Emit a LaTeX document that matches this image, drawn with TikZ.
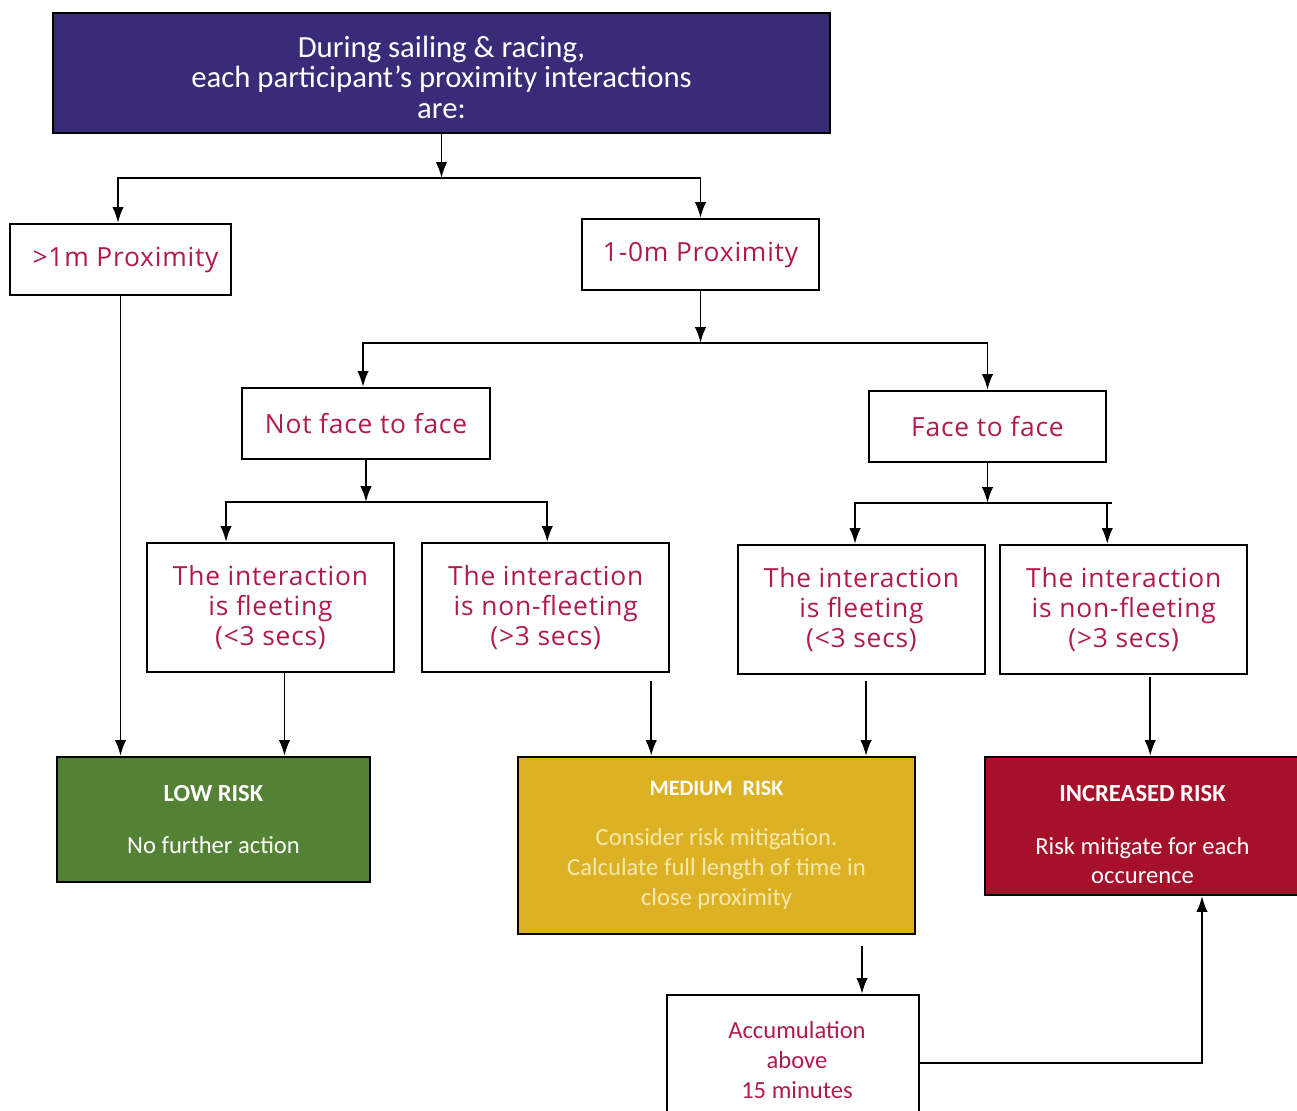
\documentclass[tikz,border=0pt]{standalone}
\usepackage{fontspec}
\setmainfont{Carlito}
\newfontfamily\askfont[LetterSpace=3]{Open Sans}
\usepackage{xcolor}
\usetikzlibrary{calc}
\usetikzlibrary{positioning}
\usetikzlibrary{arrows.meta}

\definecolor{titleblue}{HTML}{3A2B78}
\definecolor{asktext}{HTML}{B01A50}
\definecolor{lowgreen}{HTML}{548235}
\definecolor{medyellow}{HTML}{DCB124}
\definecolor{medtext}{HTML}{F7E9AE}
\definecolor{highred}{HTML}{A6102A}

\begin{document}
\begin{tikzpicture}[x=0.02cm,y=-0.02cm]
		\tikzstyle{box} = [draw, line width=1.3pt, align=center, inner sep=0pt]
		\tikzstyle{question} = [box, text=asktext, font=\askfont\fontsize{15}{17}\selectfont]
		\tikzstyle{outcome} = [box, text=white, font=\fontsize{14}{17}\selectfont]
		\tikzstyle{flow} = [draw, line width=1.1pt, -{Latex[length=9pt,width=6.5pt]}]

		\useasboundingbox (0,0) rectangle (1297,1111);

		\node[box, fill=titleblue, text=white, minimum width=15.54cm, minimum height=2.4cm, font=\fontsize{17.5}{17.5}\selectfont] (Title) at (441.5,73) {\rule{0pt}{17pt}During sailing \& racing,\\each participant's proximity interactions\\are:};

		\node[question, minimum width=4.42cm, minimum height=1.42cm] (Far) at (120.5,259.5) {\hspace*{0.2cm}>1m Proximity};
		\node[question, minimum width=4.74cm, minimum height=1.42cm] (Near) at (700.5,254.5) {1-0m Proximity};
		\node[question, minimum width=4.96cm, minimum height=1.42cm] (NotFace) at (366,423.5) {Not face to face};
		\node[question, minimum width=4.74cm, minimum height=1.42cm] (Face) at (987.5,426.5) {Face to face};

		\node[question, minimum width=4.94cm, minimum height=2.58cm] (FleetA) at (270.5,607.5) {The interaction\\is fleeting\\(<3 secs)};
		\node[question, minimum width=4.94cm, minimum height=2.58cm, right=0.52cm of FleetA] (LongA) {The interaction\\is non-fleeting\\(>3 secs)};
		\node[question, minimum width=4.94cm, minimum height=2.58cm] (FleetB) at (861.5,609.5) {The interaction\\is fleeting\\(<3 secs)};
		\node[question, minimum width=4.94cm, minimum height=2.58cm, right=0.26cm of FleetB] (LongB) {The interaction\\is non-fleeting\\(>3 secs)};

		\node[outcome, fill=lowgreen, minimum width=6.26cm, minimum height=2.5cm] (Low) at (213.5,819.5) {\textbf{LOW RISK}\\[13pt]No further action};
		\node[outcome, fill=medyellow, minimum width=7.94cm, minimum height=3.54cm] (Medium) at (716.5,845.5) {\fontsize{12.5}{16.5}\selectfont\textbf{MEDIUM\ \ RISK}\\[11.5pt]\fontsize{14}{16.5}\selectfont\color{medtext}Consider risk mitigation.\\\color{medtext}Calculate full length of time in\\\color{medtext}close proximity};
		\node[outcome, fill=highred, minimum width=6.3cm, minimum height=2.76cm] (High) at (1142.5,826) {\rule{0pt}{19pt}\textbf{INCREASED RISK}\\[13pt]Risk mitigate for each\\occurence};
		\node[box, text=asktext, font=\fontsize{14}{17}\selectfont, minimum width=5.04cm, minimum height=2.6cm] (Accum) at (793,1060) {\hspace*{0.16cm}Accumulation\\\hspace*{0.16cm}above\\\hspace*{0.16cm}15 minutes};

		% splits
		\coordinate (TopSplit) at (441.5,178);
		\coordinate (NearSplit) at (700.5,343);
		\coordinate (NotSplit) at (366,502);
		\coordinate (FaceSplit) at (987.5,503);

		\draw[flow] (Title) -- (TopSplit);
		\draw[flow] (TopSplit) -| ($(Far.north)+(-2.5,0)$);
		\draw[flow] (TopSplit) -| (Near);

		\draw[flow] (Near) -- (NearSplit);
		\draw[flow] (NearSplit) -| ($(NotFace.north)+(-3,0)$);
		\draw[flow] (NearSplit) -| (Face);

		\draw[flow] (NotFace) -- (NotSplit);
		\draw[flow] (NotSplit) -| ($(FleetA.north)+(-44.5,0)$);
		\draw[flow] (NotSplit) -| ($(LongA.north)+(1.5,0)$);

		\draw[flow] (Face) -- (FaceSplit);
		\draw[flow] (FaceSplit) -| ($(FleetB.north)+(-6.5,0)$);
		\draw[flow] (FaceSplit) -| ($(LongB.north)+(-16.5,0)$);
		\draw[line width=1.1pt] ($(LongB.north)+(-16.5,-41)$) -- ++(5,0);

		% to the risk boxes
		\draw[flow] (Far) -- (Far |- Low.north);
		\draw[flow] ($(FleetA.south)+(14,0)$) -- ($(FleetA.south |- Low.north)+(14,0)$);
		\draw[flow] ($(LongA.south)+(105.5,8)$) -- ($(LongA.south |- Medium.north)+(105.5,0)$);
		\draw[flow] ($(FleetB.south)+(4.5,6)$) -- ($(FleetB.south |- Medium.north)+(4.5,0)$);
		\draw[flow] ($(LongB.south)+(26.5,2)$) -- ($(LongB.south |- High.north)+(26.5,0)$);

		\draw[flow] ($(Medium.south)+(145.5,11)$) -- ($(Medium.south |- Accum.north)+(145.5,0)$);
		\draw[flow] ($(Accum.east)+(0,3)$) -| ($(High.south)+(59.5,0)$);

	\end{tikzpicture}
\end{document}
